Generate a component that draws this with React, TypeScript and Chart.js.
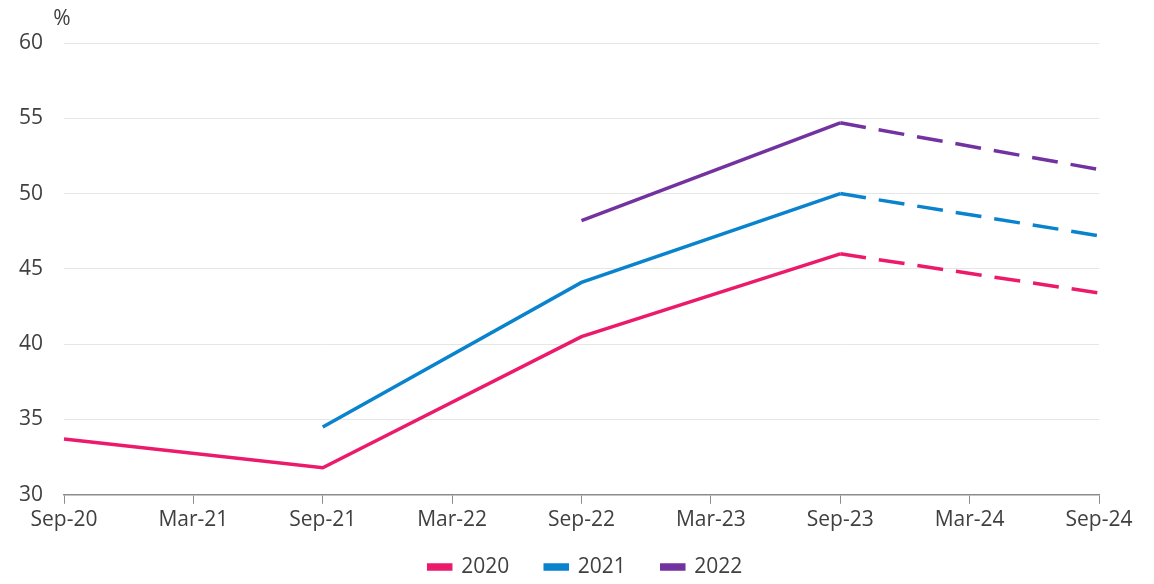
import React, { useEffect, useRef } from "react";
import { Chart, registerables } from "chart.js";

Chart.register(...registerables);

const categories = ["Sep-20", "Mar-21", "Sep-21", "Mar-22", "Sep-22", "Mar-23", "Sep-23", "Mar-24", "Sep-24"];
const series2020 = [33.7, null, 31.8, null, 40.5, null, 46.0, null, 43.4];
const series2021 = [null, null, 34.5, null, 44.1, null, 50.0, null, 47.2];
const series2022 = [null, null, null, null, 48.2, null, 54.7, null, 51.6];
const yTicks = { min: 30, max: 60, step: 5 };

const FONT = "'Open Sans', 'Noto Sans', sans-serif";
const TEXT = "#404040";
const LEGEND_PAD = 36;
const LEGEND_FONT = 21;

const percentPlugin = {
  id: "percentLabel",
  afterInit(chart: any) {
    const legend = chart.legend;
    if (legend && !legend.__patched) {
      const origFit = legend.fit.bind(legend);
      legend.fit = function () {
        origFit();
        this.height = 47;
      };
      const origDraw = legend.draw.bind(legend);
      legend.draw = function () {
        const t = this.top;
        const l = this.left;
        const r = this.right;
        this.top = chart.height - 17 - LEGEND_FONT / 2 - LEGEND_PAD;
        this.left = l + 36;
        this.right = r + 36;
        origDraw();
        this.top = t;
        this.left = l;
        this.right = r;
      };
      legend.__patched = true;
    }
  },
  afterDraw(chart: any) {
    const { ctx, chartArea } = chart;
    ctx.save();
    ctx.font = `21px ${FONT}`;
    ctx.fillStyle = TEXT;
    ctx.textAlign = "center";
    ctx.textBaseline = "middle";
    ctx.fillText("%", chartArea.left - 2, chartArea.top - 24);
    ctx.restore();
  },
};

export default function App() {
  const ref = useRef<HTMLCanvasElement>(null);
  useEffect(() => {
    const dash = (ctx: any) => (ctx.p0DataIndex >= 6 ? [26, 13] : undefined);
    const mk = (label: string, data: any[], color: string) => ({
      label,
      data,
      borderColor: color,
      backgroundColor: color,
      borderWidth: 3.5,
      pointRadius: 0,
      pointHoverRadius: 0,
      spanGaps: true,
      tension: 0,
      segment: { borderDash: dash },
    });
    const chart = new Chart(ref.current!, {
      type: "line",
      data: {
        labels: categories,
        datasets: [
          mk("2020", series2020, "#EC1A6B"),
          mk("2021", series2021, "#0A83CF"),
          mk("2022", series2022, "#7232A0"),
        ],
      },
      plugins: [percentPlugin],
      options: {
        animation: false,
        responsive: false,
        layout: { padding: { top: 43, right: 55, left: 0, bottom: 0 } },
        plugins: {
          tooltip: { enabled: false },
          legend: {
            position: "bottom",
            labels: {
              font: { family: FONT, size: LEGEND_FONT },
              color: TEXT,
              boxWidth: 22,
              boxHeight: 4,
              padding: LEGEND_PAD,
            },
          },
        },
        scales: {
          x: {
            offset: false,
            grid: { drawOnChartArea: false, drawTicks: true, tickLength: 9, color: "#8c8c8c" },
            border: { color: "#8c8c8c", width: 1.5 },
            ticks: {
              font: { family: FONT, size: 21 },
              color: TEXT,
              maxRotation: 0,
              autoSkip: false,
              padding: 4,
            },
          },
          y: {
            min: yTicks.min,
            max: yTicks.max,
            afterFit(scale: any) {
              scale.width = 64;
            },
            grid: { color: "#e6e6e6", drawTicks: false, lineWidth: 1 },
            border: { display: false },
            ticks: {
              stepSize: yTicks.step,
              font: { family: FONT, size: 21 },
              color: TEXT,
              padding: 21,
            },
          },
        },
      },
    } as any);
    return () => chart.destroy();
  }, []);
  return (
    <div style={{ position: "fixed", left: 0, top: 0, width: 1154, height: 584, background: "#fff" }}>
      <canvas ref={ref} width={1154} height={584} style={{ width: 1154, height: 584 }} />
    </div>
  );
}
